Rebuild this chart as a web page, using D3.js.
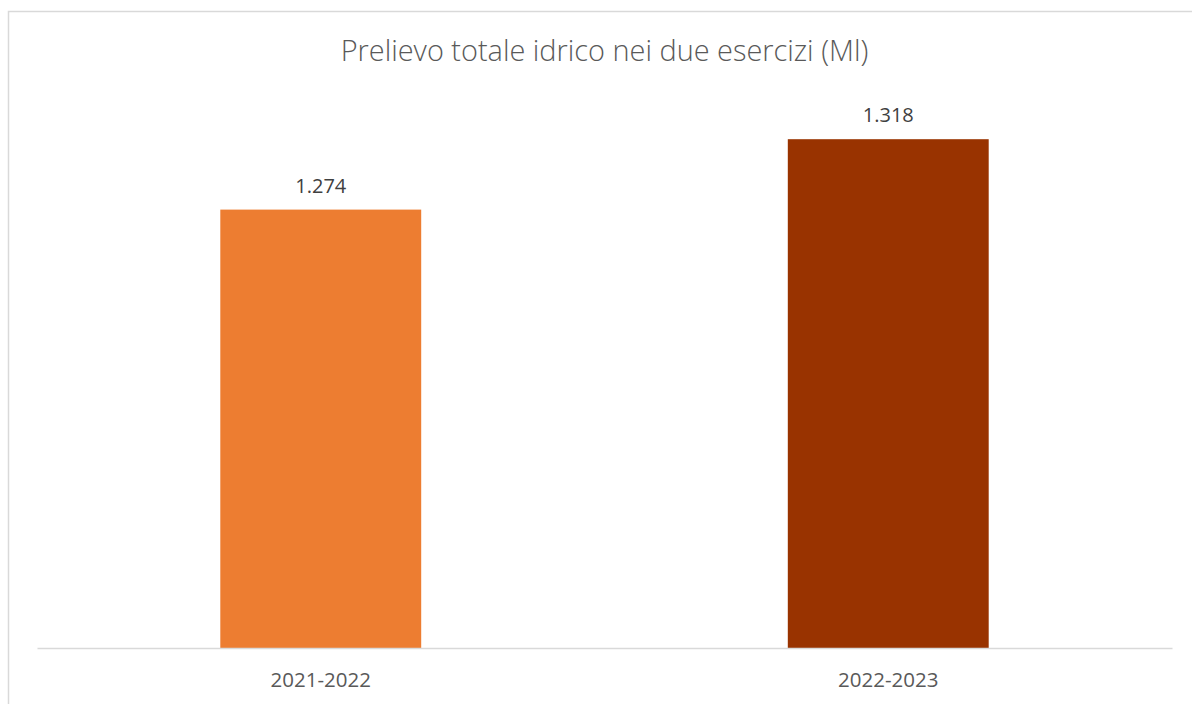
<!DOCTYPE html>
<html>
<head>
<meta charset="utf-8">
<script src="https://cdn.jsdelivr.net/npm/d3@7"></script>
<style>
  body { margin: 0; background: #fff; }
  svg { display: block; font-family: "Open Sans", "Liberation Sans", sans-serif; }
</style>
</head>
<body>
<svg id="chart"></svg>
<script>
const title = 'Prelievo totale idrico nei due esercizi (Ml)';
const periods = ['2021-2022', '2022-2023'];
const values = [1274, 1318];
const colors = ['#ed7d31', '#993300'];

const size = {w: 1192, h: 704};
const plot = {l: 37, r: 1172, t: 88, b: 648};

const svg = d3.select('svg#chart')
    .attr('width', size.w)
    .attr('height', size.h);

// chart frame (only top and left edges are visible)
svg.append('path')
    .attr('d', `M8.5,${size.h + 2} V11.5 H${size.w + 2}`)
    .attr('fill', 'none')
    .attr('stroke', '#d9d9d9')
    .attr('stroke-width', 1.5);

svg.append('text')
    .attr('x', (plot.l + plot.r) / 2)
    .attr('y', 61)
    .attr('text-anchor', 'middle')
    .attr('font-size', 28.9)
    .attr('font-weight', 300)
    .attr('fill', '#595959')
    .text(title);

let x = d3.scaleBand()
    .domain(periods)
    .range([plot.l, plot.r])
    .paddingInner(0.646)
    .paddingOuter(0.323);

let y = d3.scaleLinear()
    .domain([1000, 1350])
    .range([plot.b, plot.t]);

const fmt = d3.formatLocale({decimal: ',', thousands: '.', grouping: [3], currency: ['', '€']}).format(',d');

svg.append('g')
    .selectAll('rect')
    .data(periods)
    .join('rect')
    .attr('x', d => x(d))
    .attr('y', (d, i) => y(values[i]))
    .attr('width', x.bandwidth())
    .attr('height', (d, i) => y.range()[0] - y(values[i]))
    .attr('fill', (d, i) => colors[i]);

svg.append('g')
    .selectAll('text')
    .data(periods)
    .join('text')
    .attr('x', d => x(d) + x.bandwidth() / 2)
    .attr('y', (d, i) => y(values[i]) - 17)
    .attr('text-anchor', 'middle')
    .attr('font-size', 20)
    .attr('fill', '#404040')
    .text((d, i) => fmt(values[i]));

// x axis
let axis = svg.append('g')
    .attr('transform', `translate(0, ${plot.b})`)
    .call(d3.axisBottom(x).tickSize(0).tickPadding(24));
axis.select('.domain')
    .attr('stroke', '#d9d9d9')
    .attr('stroke-width', 1.5);
axis.selectAll('text')
    .attr('font-family', '"Open Sans", "Liberation Sans", sans-serif')
    .attr('font-size', 20.5)
    .attr('fill', '#595959');
</script>
</body>
</html>
